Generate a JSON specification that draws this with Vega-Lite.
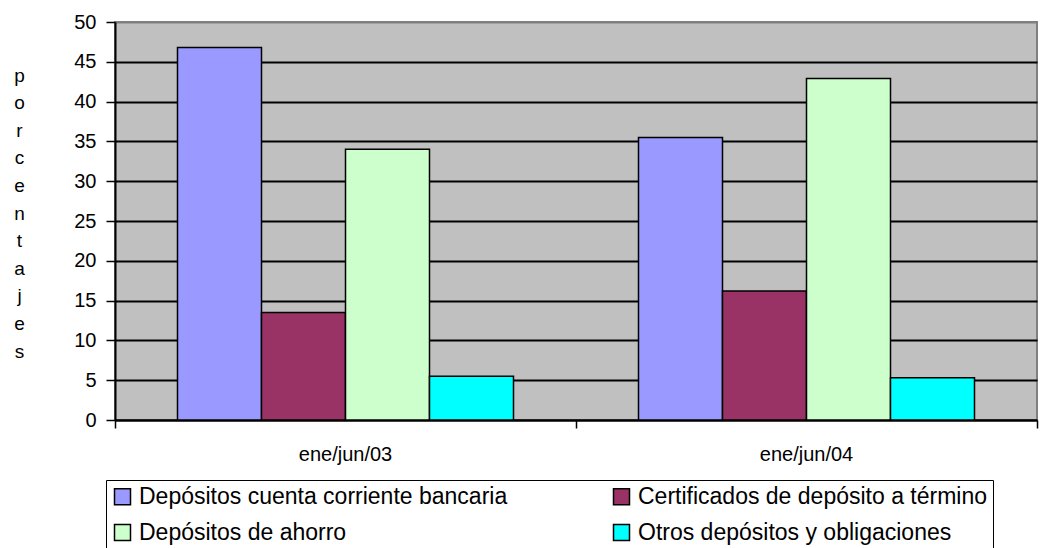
{
  "$schema": "https://vega.github.io/schema/vega-lite/v6.json",
  "autosize": "none",
  "width": 922,
  "height": 398,
  "padding": {"left": 115, "top": 22, "right": 21, "bottom": 128},
  "background": "white",
  "data": {
    "values": [
      {"periodo": "ene/jun/03", "serie": "Depósitos cuenta corriente bancaria", "valor": 46.8},
      {"periodo": "ene/jun/03", "serie": "Certificados de depósito a término", "valor": 13.5},
      {"periodo": "ene/jun/03", "serie": "Depósitos de ahorro", "valor": 34.0},
      {"periodo": "ene/jun/03", "serie": "Otros depósitos y obligaciones", "valor": 5.5},
      {"periodo": "ene/jun/04", "serie": "Depósitos cuenta corriente bancaria", "valor": 35.5},
      {"periodo": "ene/jun/04", "serie": "Certificados de depósito a término", "valor": 16.2},
      {"periodo": "ene/jun/04", "serie": "Depósitos de ahorro", "valor": 42.9},
      {"periodo": "ene/jun/04", "serie": "Otros depósitos y obligaciones", "valor": 5.3}
    ]
  },
  "mark": {"type": "bar", "stroke": "black", "strokeWidth": 1.5},
  "encoding": {
    "x": {
      "field": "periodo",
      "type": "nominal",
      "scale": {"paddingInner": 0, "paddingOuter": 0},
      "axis": {
        "title": null,
        "labelAngle": 0,
        "labelFont": "Liberation Sans",
        "labelFontSize": 20,
        "labelColor": "black",
        "labelPadding": 16,
        "bandPosition": 1,
        "tickExtra": true,
        "tickSize": 8,
        "tickWidth": 1.5,
        "tickColor": "black",
        "domainColor": "black",
        "domainWidth": 2
      }
    },
    "xOffset": {
      "field": "serie",
      "type": "nominal",
      "sort": ["Depósitos cuenta corriente bancaria", "Certificados de depósito a término", "Depósitos de ahorro", "Otros depósitos y obligaciones"],
      "scale": {"paddingInner": 0, "paddingOuter": 0.744}
    },
    "y": {
      "field": "valor",
      "type": "quantitative",
      "scale": {"domain": [0, 50], "nice": false},
      "axis": {
        "values": [0, 5, 10, 15, 20, 25, 30, 35, 40, 45, 50],
        "title": ["p", "o", "r", "c", "e", "n", "t", "a", "j", "e", "s"],
        "titleAngle": 0,
        "titleAlign": "center",
        "titleBaseline": "middle",
        "titleX": -96,
        "titleY": 53,
        "titleFont": "Liberation Sans",
        "titleFontSize": 19,
        "titleFontWeight": "normal",
        "titleColor": "black",
        "titleLineHeight": 27.6,
        "labelFont": "Liberation Sans",
        "labelFontSize": 20,
        "labelColor": "black",
        "labelPadding": 10,
        "tickSize": 9,
        "tickWidth": 1.5,
        "tickColor": "black",
        "domainColor": "black",
        "domainWidth": 2,
        "grid": true,
        "gridColor": {"condition": {"test": "datum.value === 50", "value": "#808080"}, "value": "black"},
        "gridWidth": 2
      }
    },
    "color": {
      "field": "serie",
      "type": "nominal",
      "scale": {
        "domain": ["Depósitos cuenta corriente bancaria", "Certificados de depósito a término", "Depósitos de ahorro", "Otros depósitos y obligaciones"],
        "range": ["#9999FF", "#993366", "#CCFFCC", "#00FFFF"]
      },
      "legend": {
        "title": null,
        "orient": "none",
        "legendX": -9,
        "legendY": 458,
        "direction": "horizontal",
        "columns": 2,
        "columnPadding": 102,
        "rowPadding": 12,
        "padding": 5,
        "strokeColor": "black",
        "fillColor": "white",
        "symbolType": "square",
        "symbolSize": 256,
        "symbolStrokeColor": "black",
        "symbolStrokeWidth": 1.5,
        "symbolOpacity": 1,
        "symbolOffset": 0,
        "labelFont": "Liberation Sans",
        "labelFontSize": 23,
        "labelColor": "black",
        "labelOffset": 5,
        "labelLimit": 600
      }
    }
  },
  "config": {
    "view": {"fill": "#C0C0C0", "stroke": "#808080", "strokeWidth": 2}
  }
}
